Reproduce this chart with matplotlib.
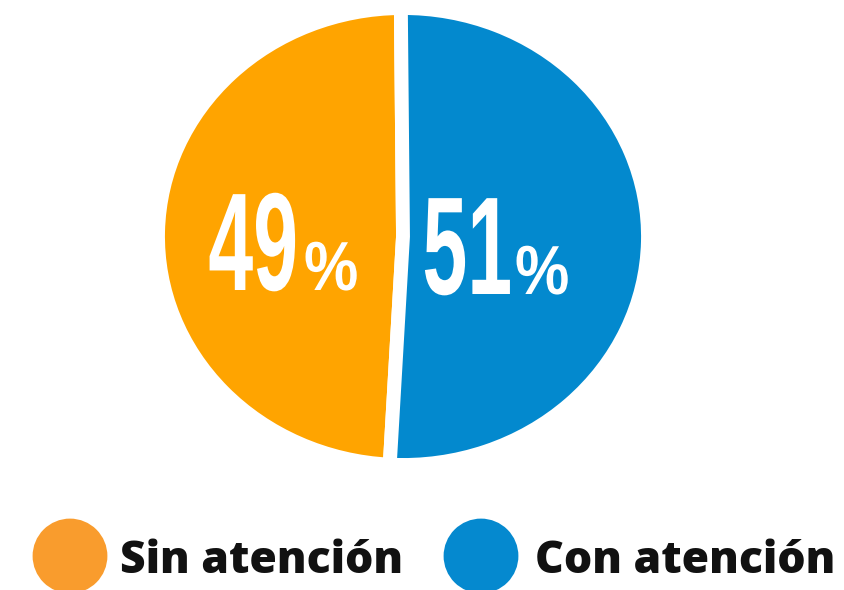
import matplotlib
matplotlib.use("Agg")
import matplotlib.pyplot as plt
from matplotlib import patheffects
from matplotlib.transforms import Affine2D

labels = ["Sin atención", "Con atención"]
values = [49, 51]
pie_colors = ["#FFA400", "#0389CE"]
legend_colors = ["#F99C2D", "#0589CF"]


class Stretch(patheffects.AbstractPathEffect):
    # rescales the glyphs around a point on the baseline, used to get the tall
    # condensed look of the percentages. pivot is an x in data coords of ax,
    # by default the text origin is used
    def __init__(self, sx, sy, ax=None, pivot=None):
        super().__init__()
        self.sx = sx
        self.sy = sy
        self.ax = ax
        self.pivot = pivot

    def draw_path(self, renderer, gc, tpath, affine, rgbFace=None):
        m = affine.get_matrix()
        tx, ty = m[0, 2], m[1, 2]
        if self.pivot is not None:
            tx = self.ax.transData.transform((self.pivot, 0))[0]
        st = Affine2D().translate(-tx, -ty).scale(self.sx, self.sy).translate(tx, ty)
        renderer.draw_path(gc, tpath, affine + st, rgbFace)


W, H = 845, 590
fig = plt.figure(figsize=(W / 100, H / 100), dpi=100)
fig.patch.set_facecolor("white")

# pie in its own axes, aspect left auto so it comes out a bit wide like the original
axp = fig.add_axes([158 / W, (H - 465) / H, 490 / W, 457 / H])
wedges, _ = axp.pie(values, colors=pie_colors, startangle=90.5, counterclock=True,
                    radius=1.0, wedgeprops=dict(edgecolor="white", linewidth=10))
axp.set_aspect("auto")
axp.set_xlim(-1, 1)
axp.set_ylim(-1, 1)
axp.axis("off")

# everything else in pixel coordinates
axl = fig.add_axes([0, 0, 1, 1])
axl.set_xlim(0, W)
axl.set_ylim(H, 0)
axl.axis("off")

num_right = [298, 512]
pct_x = [304, 515]
base_y = [290, 294]
for v, nx, px, by in zip(values, num_right, pct_x, base_y):
    axl.text(nx, by, str(v), ha="right", va="baseline", fontsize=66, color="white",
             family="Liberation Sans", weight="bold",
             path_effects=[Stretch(0.88, 1.52, axl, nx)])
    axl.text(px, by, "%", ha="left", va="baseline", fontsize=50, color="white",
             family="Liberation Sans", weight="bold", path_effects=[Stretch(0.88, 1.0)])

dot_x = [70, 481]
text_x = [120, 535]
for lab, c, dx, tx in zip(labels, legend_colors, dot_x, text_x):
    axl.scatter([dx], [556], s=2900, color=c, edgecolors="none")
    axl.text(tx, 573, lab, ha="left", va="baseline", fontsize=32,
             family=["Open Sans", "DejaVu Sans"], weight=800, color="#111111")

fig.savefig("out.png", dpi=100)
